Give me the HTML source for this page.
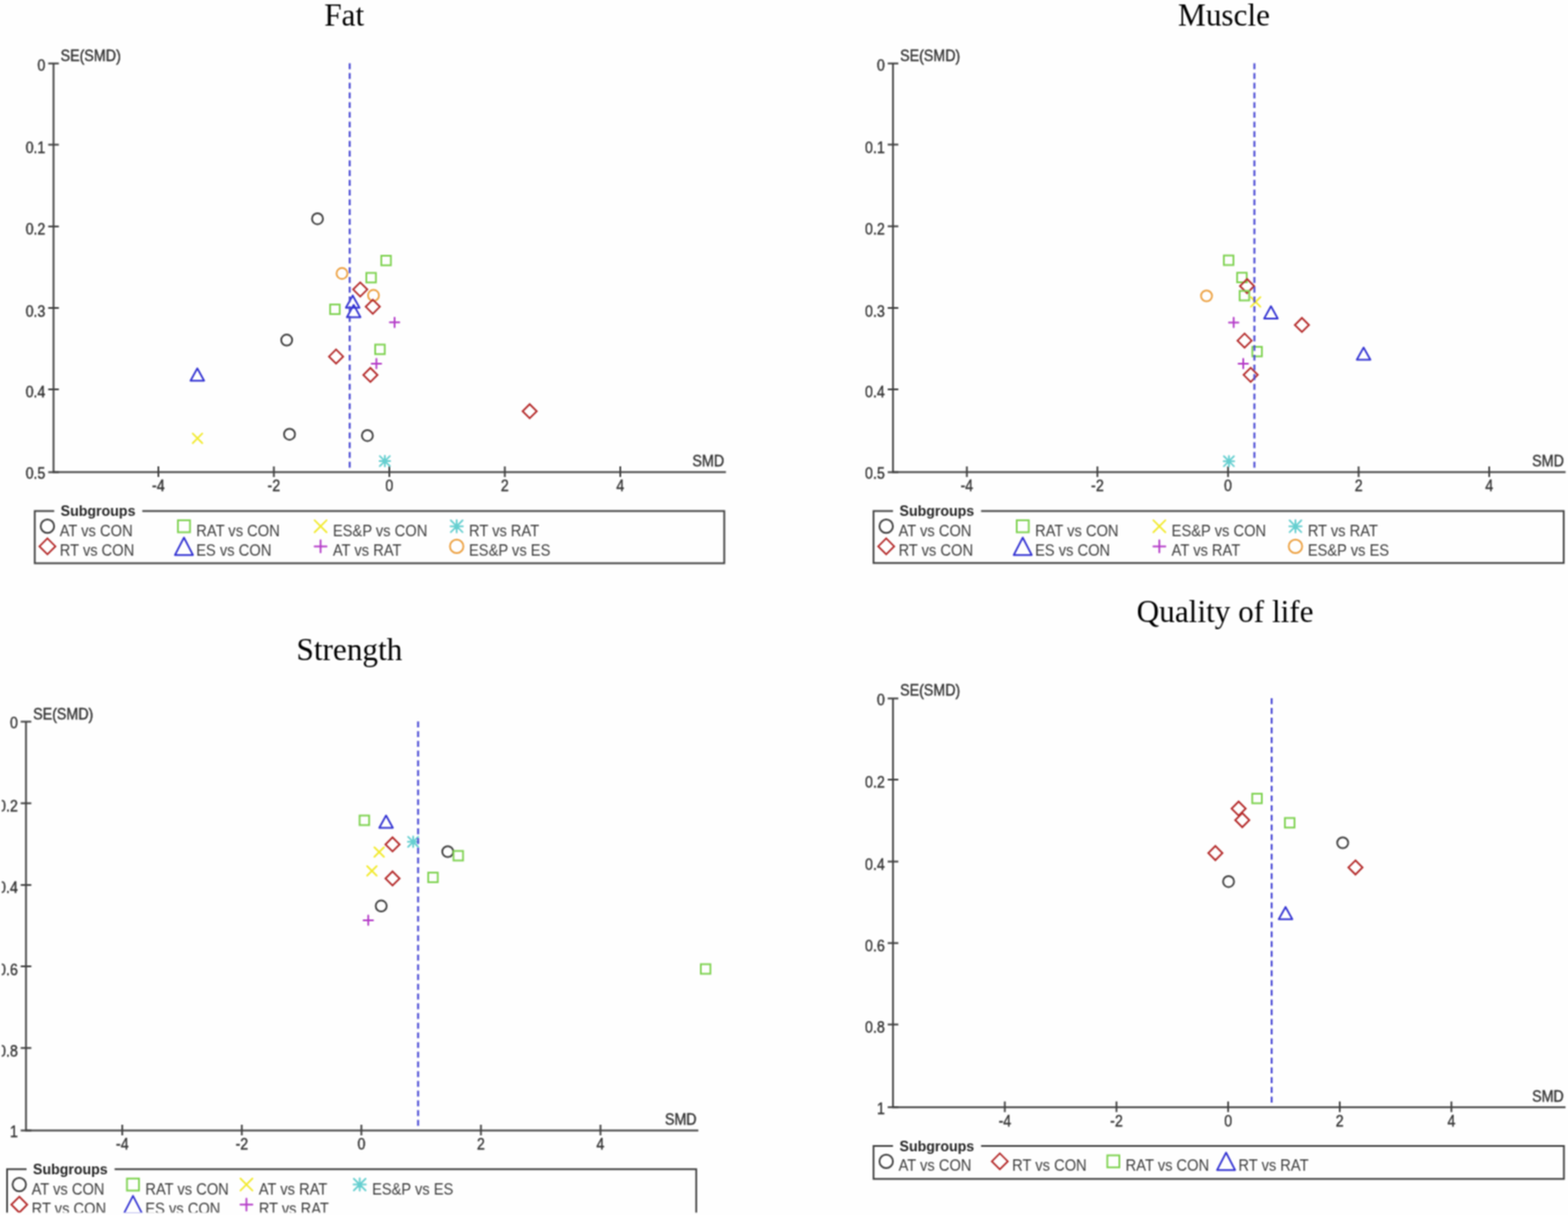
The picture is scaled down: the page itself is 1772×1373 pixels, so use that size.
<!DOCTYPE html>
<html><head><meta charset="utf-8"><title>Funnel plots</title>
<style>
html,body{margin:0;padding:0;background:#fff;}
body{width:1772px;height:1373px;overflow:hidden;}
svg{display:block;}
</style></head>
<body>
<svg width="1772" height="1373" viewBox="0 0 1772 1373">
<defs><filter id="soft" x="0" y="0" width="1772" height="1373" filterUnits="userSpaceOnUse" color-interpolation-filters="sRGB"><feConvolveMatrix order="3" kernelMatrix="1 2 1 2 4 2 1 2 1" divisor="16" edgeMode="duplicate"/></filter></defs>
<g filter="url(#soft)">
<rect width="1772" height="1373" fill="#fefefe"/>
<g stroke="#404040" stroke-width="2" fill="none">
<path d="M60.5 71.7V533.6H820.4"/>
<path d="M54.5 71.7H66.5"/>
<path d="M54.5 163.5H66.5"/>
<path d="M54.5 255.9H66.5"/>
<path d="M54.5 348H66.5"/>
<path d="M54.5 440H66.5"/>
<path d="M54.5 533.6H66.5"/>
<path d="M179 527.1V539.1"/>
<path d="M309.5 527.1V539.1"/>
<path d="M440 527.1V539.1"/>
<path d="M570.5 527.1V539.1"/>
<path d="M701 527.1V539.1"/>
</g>
<g font-family="'Liberation Sans', Arial, sans-serif" font-size="18" fill="#333333" stroke="#333333" stroke-width="0.4">
<text transform="translate(51.3 79.54) scale(0.895 1)" text-anchor="end">0</text>
<text transform="translate(51.3 172.94) scale(0.895 1)" text-anchor="end">0.1</text>
<text transform="translate(51.3 265.24) scale(0.895 1)" text-anchor="end">0.2</text>
<text transform="translate(51.3 357.54) scale(0.895 1)" text-anchor="end">0.3</text>
<text transform="translate(51.3 449.34) scale(0.895 1)" text-anchor="end">0.4</text>
<text transform="translate(51.3 541.24) scale(0.895 1)" text-anchor="end">0.5</text>
<text transform="translate(179 555) scale(0.895 1)" text-anchor="middle">-4</text>
<text transform="translate(309.5 555) scale(0.895 1)" text-anchor="middle">-2</text>
<text transform="translate(440 555) scale(0.895 1)" text-anchor="middle">0</text>
<text transform="translate(570.5 555) scale(0.895 1)" text-anchor="middle">2</text>
<text transform="translate(701 555) scale(0.895 1)" text-anchor="middle">4</text>
<text transform="translate(68.5 68.7) scale(0.895 1)">SE(SMD)</text>
<text transform="translate(818.4 527.1) scale(0.895 1)" text-anchor="end">SMD</text>
</g>
<text x="389" y="28.7" text-anchor="middle" font-family="'Liberation Serif', 'Times New Roman', serif" font-size="35.3" fill="#000">Fat</text>
<circle cx="358.8" cy="247.2" r="6.2" fill="none" stroke="#3e3e3e" stroke-width="2"/>
<rect x="430.9" y="289" width="10.8" height="10.8" fill="none" stroke="#7ed250" stroke-width="2"/>
<circle cx="386.5" cy="309" r="6.2" fill="none" stroke="#eca040" stroke-width="2"/>
<rect x="414" y="308.4" width="10.8" height="10.8" fill="none" stroke="#7ed250" stroke-width="2"/>
<polygon points="407.1,319.1 415.1,327.1 407.1,335.1 399.1,327.1" fill="none" stroke="#b42a2a" stroke-width="2" stroke-linejoin="miter"/>
<circle cx="422.1" cy="333.8" r="6.2" fill="none" stroke="#eca040" stroke-width="2"/>
<polygon points="398.6,333.9 406.3,347.8 390.9,347.8" fill="none" stroke="#3232d2" stroke-width="2" stroke-linejoin="round"/>
<polygon points="421.3,338.6 429.3,346.6 421.3,354.6 413.3,346.6" fill="none" stroke="#b42a2a" stroke-width="2" stroke-linejoin="miter"/>
<rect x="373.1" y="344.1" width="10.8" height="10.8" fill="none" stroke="#7ed250" stroke-width="2"/>
<polygon points="399.7,344.6 407.4,358.5 392,358.5" fill="none" stroke="#3232d2" stroke-width="2" stroke-linejoin="round"/>
<path d="M440.5 364.3H451.3M445.9 358.9V369.7" stroke="#b43cc8" stroke-width="2" stroke-linecap="round" fill="none"/>
<circle cx="324" cy="384.3" r="6.2" fill="none" stroke="#3e3e3e" stroke-width="2"/>
<rect x="424" y="389.4" width="10.8" height="10.8" fill="none" stroke="#7ed250" stroke-width="2"/>
<polygon points="379.8,394.9 387.8,402.9 379.8,410.9 371.8,402.9" fill="none" stroke="#b42a2a" stroke-width="2" stroke-linejoin="miter"/>
<path d="M420 410.9H430.8M425.4 405.5V416.3" stroke="#b43cc8" stroke-width="2" stroke-linecap="round" fill="none"/>
<polygon points="418.6,415.7 426.6,423.7 418.6,431.7 410.6,423.7" fill="none" stroke="#b42a2a" stroke-width="2" stroke-linejoin="miter"/>
<polygon points="223,416.3 230.7,430.2 215.3,430.2" fill="none" stroke="#3232d2" stroke-width="2" stroke-linejoin="round"/>
<polygon points="598.6,456.7 606.6,464.7 598.6,472.7 590.6,464.7" fill="none" stroke="#b42a2a" stroke-width="2" stroke-linejoin="miter"/>
<circle cx="327.2" cy="490.7" r="6.2" fill="none" stroke="#3e3e3e" stroke-width="2"/>
<circle cx="415.2" cy="492.2" r="6.2" fill="none" stroke="#3e3e3e" stroke-width="2"/>
<path d="M217.8 489.9L228.6 500.7M228.6 489.9L217.8 500.7" stroke="#f2ea30" stroke-width="2" stroke-linecap="round" fill="none"/>
<path d="M428.9 521.1H440.9M434.9 515.1V527.1M429.2 515.4L440.6 526.8M440.6 515.4L429.2 526.8" stroke="#66cfd0" stroke-width="2" stroke-linecap="round" fill="none"/>
<path d="M395.2 71.5V528.6" stroke="#4a4ad4" stroke-width="2.2" stroke-dasharray="6.7 4.28" fill="none"/>
<path d="M61.3 577.4H39.3V636.4H818.5V577.4H160.8" stroke="#404040" stroke-width="2" fill="none"/>
<text x="68.6" y="583.2" font-family="'Liberation Sans', Arial, sans-serif" font-size="16" font-weight="bold" fill="#262626">Subgroups</text>
<circle cx="53.6" cy="594.7" r="7.6" fill="none" stroke="#3e3e3e" stroke-width="2"/>
<text transform="translate(67.5 605.7) scale(0.95 1)" font-family="'Liberation Sans', Arial, sans-serif" font-size="17.5" fill="#3c3c3c">AT vs CON</text>
<polygon points="53.6,608.4 62.6,617.4 53.6,626.4 44.6,617.4" fill="none" stroke="#b42a2a" stroke-width="2" stroke-linejoin="miter"/>
<text transform="translate(67.5 627.9) scale(0.95 1)" font-family="'Liberation Sans', Arial, sans-serif" font-size="17.5" fill="#3c3c3c">RT vs CON</text>
<rect x="201.1" y="587.9" width="13.6" height="13.6" fill="none" stroke="#7ed250" stroke-width="2"/>
<text transform="translate(221.8 605.7) scale(0.95 1)" font-family="'Liberation Sans', Arial, sans-serif" font-size="17.5" fill="#3c3c3c">RAT vs CON</text>
<polygon points="207.9,607.5 218.1,627.2 197.7,627.2" fill="none" stroke="#3232d2" stroke-width="2" stroke-linejoin="round"/>
<text transform="translate(221.8 627.9) scale(0.95 1)" font-family="'Liberation Sans', Arial, sans-serif" font-size="17.5" fill="#3c3c3c">ES vs CON</text>
<path d="M355.5 587.9L369.1 601.5M369.1 587.9L355.5 601.5" stroke="#f2ea30" stroke-width="2" stroke-linecap="round" fill="none"/>
<text transform="translate(376.2 605.7) scale(0.95 1)" font-family="'Liberation Sans', Arial, sans-serif" font-size="17.5" fill="#3c3c3c">ES&amp;P vs CON</text>
<path d="M355.5 617.4H369.1M362.3 610.6V624.2" stroke="#b43cc8" stroke-width="2" stroke-linecap="round" fill="none"/>
<text transform="translate(376.2 627.9) scale(0.95 1)" font-family="'Liberation Sans', Arial, sans-serif" font-size="17.5" fill="#3c3c3c">AT vs RAT</text>
<path d="M509.1 594.7H523.1M516.1 587.7V601.7M509.45 588.05L522.75 601.35M522.75 588.05L509.45 601.35" stroke="#66cfd0" stroke-width="2" stroke-linecap="round" fill="none"/>
<text transform="translate(530 605.7) scale(0.95 1)" font-family="'Liberation Sans', Arial, sans-serif" font-size="17.5" fill="#3c3c3c">RT vs RAT</text>
<circle cx="516.1" cy="617.4" r="7.6" fill="none" stroke="#eca040" stroke-width="2"/>
<text transform="translate(530 627.9) scale(0.95 1)" font-family="'Liberation Sans', Arial, sans-serif" font-size="17.5" fill="#3c3c3c">ES&amp;P vs ES</text>
<g stroke="#404040" stroke-width="2" fill="none">
<path d="M1009.2 71.7V533.6H1769.3"/>
<path d="M1003.2 71.7H1015.2"/>
<path d="M1003.2 163.4H1015.2"/>
<path d="M1003.2 255.7H1015.2"/>
<path d="M1003.2 348H1015.2"/>
<path d="M1003.2 440H1015.2"/>
<path d="M1003.2 533.6H1015.2"/>
<path d="M1092.64 527.1V539.1"/>
<path d="M1240.22 527.1V539.1"/>
<path d="M1387.8 527.1V539.1"/>
<path d="M1535.38 527.1V539.1"/>
<path d="M1682.96 527.1V539.1"/>
</g>
<g font-family="'Liberation Sans', Arial, sans-serif" font-size="18" fill="#333333" stroke="#333333" stroke-width="0.4">
<text transform="translate(1000 79.54) scale(0.895 1)" text-anchor="end">0</text>
<text transform="translate(1000 172.84) scale(0.895 1)" text-anchor="end">0.1</text>
<text transform="translate(1000 265.04) scale(0.895 1)" text-anchor="end">0.2</text>
<text transform="translate(1000 357.54) scale(0.895 1)" text-anchor="end">0.3</text>
<text transform="translate(1000 449.34) scale(0.895 1)" text-anchor="end">0.4</text>
<text transform="translate(1000 541.24) scale(0.895 1)" text-anchor="end">0.5</text>
<text transform="translate(1092.64 555) scale(0.895 1)" text-anchor="middle">-4</text>
<text transform="translate(1240.22 555) scale(0.895 1)" text-anchor="middle">-2</text>
<text transform="translate(1387.8 555) scale(0.895 1)" text-anchor="middle">0</text>
<text transform="translate(1535.38 555) scale(0.895 1)" text-anchor="middle">2</text>
<text transform="translate(1682.96 555) scale(0.895 1)" text-anchor="middle">4</text>
<text transform="translate(1017.2 68.7) scale(0.895 1)">SE(SMD)</text>
<text transform="translate(1767.3 527.1) scale(0.895 1)" text-anchor="end">SMD</text>
</g>
<text x="1383.3" y="28.6" text-anchor="middle" font-family="'Liberation Serif', 'Times New Roman', serif" font-size="35.3" fill="#000">Muscle</text>
<rect x="1383.1" y="288.7" width="10.8" height="10.8" fill="none" stroke="#7ed250" stroke-width="2"/>
<rect x="1398.1" y="308.2" width="10.8" height="10.8" fill="none" stroke="#7ed250" stroke-width="2"/>
<polygon points="1409.3,315.3 1417.3,323.3 1409.3,331.3 1401.3,323.3" fill="none" stroke="#b42a2a" stroke-width="2" stroke-linejoin="miter"/>
<rect x="1400.9" y="328.7" width="10.8" height="10.8" fill="none" stroke="#7ed250" stroke-width="2"/>
<circle cx="1363.5" cy="334.4" r="6.2" fill="none" stroke="#eca040" stroke-width="2"/>
<path d="M1413.6 335.8L1424.4 346.6M1424.4 335.8L1413.6 346.6" stroke="#f2ea30" stroke-width="2" stroke-linecap="round" fill="none"/>
<polygon points="1436.3,346.1 1444,360 1428.6,360" fill="none" stroke="#3232d2" stroke-width="2" stroke-linejoin="round"/>
<path d="M1388.8 364.4H1399.6M1394.2 359V369.8" stroke="#b43cc8" stroke-width="2" stroke-linecap="round" fill="none"/>
<polygon points="1471.3,359.2 1479.3,367.2 1471.3,375.2 1463.3,367.2" fill="none" stroke="#b42a2a" stroke-width="2" stroke-linejoin="miter"/>
<polygon points="1406.5,376.9 1414.5,384.9 1406.5,392.9 1398.5,384.9" fill="none" stroke="#b42a2a" stroke-width="2" stroke-linejoin="miter"/>
<rect x="1415.3" y="391.9" width="10.8" height="10.8" fill="none" stroke="#7ed250" stroke-width="2"/>
<polygon points="1541,392.7 1548.7,406.6 1533.3,406.6" fill="none" stroke="#3232d2" stroke-width="2" stroke-linejoin="round"/>
<path d="M1399.6 410.9H1410.4M1405 405.5V416.3" stroke="#b43cc8" stroke-width="2" stroke-linecap="round" fill="none"/>
<polygon points="1413.4,415.6 1421.4,423.6 1413.4,431.6 1405.4,423.6" fill="none" stroke="#b42a2a" stroke-width="2" stroke-linejoin="miter"/>
<path d="M1382.8 521.2H1394.8M1388.8 515.2V527.2M1383.1 515.5L1394.5 526.9M1394.5 515.5L1383.1 526.9" stroke="#66cfd0" stroke-width="2" stroke-linecap="round" fill="none"/>
<path d="M1417.6 71.5V528.6" stroke="#4a4ad4" stroke-width="2.2" stroke-dasharray="6.7 4.28" fill="none"/>
<path d="M1009.2 577.4H987.2V636.3H1767.2V577.4H1108.7" stroke="#404040" stroke-width="2" fill="none"/>
<text x="1016.5" y="583.2" font-family="'Liberation Sans', Arial, sans-serif" font-size="16" font-weight="bold" fill="#262626">Subgroups</text>
<circle cx="1001.5" cy="594.7" r="7.6" fill="none" stroke="#3e3e3e" stroke-width="2"/>
<text transform="translate(1015.4 605.7) scale(0.95 1)" font-family="'Liberation Sans', Arial, sans-serif" font-size="17.5" fill="#3c3c3c">AT vs CON</text>
<polygon points="1001.5,608.4 1010.5,617.4 1001.5,626.4 992.5,617.4" fill="none" stroke="#b42a2a" stroke-width="2" stroke-linejoin="miter"/>
<text transform="translate(1015.4 627.9) scale(0.95 1)" font-family="'Liberation Sans', Arial, sans-serif" font-size="17.5" fill="#3c3c3c">RT vs CON</text>
<rect x="1149" y="587.9" width="13.6" height="13.6" fill="none" stroke="#7ed250" stroke-width="2"/>
<text transform="translate(1169.7 605.7) scale(0.95 1)" font-family="'Liberation Sans', Arial, sans-serif" font-size="17.5" fill="#3c3c3c">RAT vs CON</text>
<polygon points="1155.8,607.5 1166,627.2 1145.6,627.2" fill="none" stroke="#3232d2" stroke-width="2" stroke-linejoin="round"/>
<text transform="translate(1169.7 627.9) scale(0.95 1)" font-family="'Liberation Sans', Arial, sans-serif" font-size="17.5" fill="#3c3c3c">ES vs CON</text>
<path d="M1303.4 587.9L1317 601.5M1317 587.9L1303.4 601.5" stroke="#f2ea30" stroke-width="2" stroke-linecap="round" fill="none"/>
<text transform="translate(1324.1 605.7) scale(0.95 1)" font-family="'Liberation Sans', Arial, sans-serif" font-size="17.5" fill="#3c3c3c">ES&amp;P vs CON</text>
<path d="M1303.4 617.4H1317M1310.2 610.6V624.2" stroke="#b43cc8" stroke-width="2" stroke-linecap="round" fill="none"/>
<text transform="translate(1324.1 627.9) scale(0.95 1)" font-family="'Liberation Sans', Arial, sans-serif" font-size="17.5" fill="#3c3c3c">AT vs RAT</text>
<path d="M1457 594.7H1471M1464 587.7V601.7M1457.35 588.05L1470.65 601.35M1470.65 588.05L1457.35 601.35" stroke="#66cfd0" stroke-width="2" stroke-linecap="round" fill="none"/>
<text transform="translate(1477.9 605.7) scale(0.95 1)" font-family="'Liberation Sans', Arial, sans-serif" font-size="17.5" fill="#3c3c3c">RT vs RAT</text>
<circle cx="1464" cy="617.4" r="7.6" fill="none" stroke="#eca040" stroke-width="2"/>
<text transform="translate(1477.9 627.9) scale(0.95 1)" font-family="'Liberation Sans', Arial, sans-serif" font-size="17.5" fill="#3c3c3c">ES&amp;P vs ES</text>
<g stroke="#404040" stroke-width="2" fill="none">
<path d="M29.4 815.5V1277.5H789.2"/>
<path d="M23.4 815.5H35.4"/>
<path d="M23.4 907.7H35.4"/>
<path d="M23.4 1000.1H35.4"/>
<path d="M23.4 1092H35.4"/>
<path d="M23.4 1184.3H35.4"/>
<path d="M23.4 1277.5H35.4"/>
<path d="M138.2 1271V1283"/>
<path d="M273.3 1271V1283"/>
<path d="M408.4 1271V1283"/>
<path d="M543.5 1271V1283"/>
<path d="M678.6 1271V1283"/>
</g>
<g font-family="'Liberation Sans', Arial, sans-serif" font-size="18" fill="#333333" stroke="#333333" stroke-width="0.4">
<text transform="translate(20.2 823.34) scale(0.895 1)" text-anchor="end">0</text>
<text transform="translate(20.2 917.14) scale(0.895 1)" text-anchor="end">0.2</text>
<text transform="translate(20.2 1009.44) scale(0.895 1)" text-anchor="end">0.4</text>
<text transform="translate(20.2 1101.54) scale(0.895 1)" text-anchor="end">0.6</text>
<text transform="translate(20.2 1193.64) scale(0.895 1)" text-anchor="end">0.8</text>
<text transform="translate(20.2 1285.14) scale(0.895 1)" text-anchor="end">1</text>
<text transform="translate(138.2 1298.9) scale(0.895 1)" text-anchor="middle">-4</text>
<text transform="translate(273.3 1298.9) scale(0.895 1)" text-anchor="middle">-2</text>
<text transform="translate(408.4 1298.9) scale(0.895 1)" text-anchor="middle">0</text>
<text transform="translate(543.5 1298.9) scale(0.895 1)" text-anchor="middle">2</text>
<text transform="translate(678.6 1298.9) scale(0.895 1)" text-anchor="middle">4</text>
<text transform="translate(37.4 812.5) scale(0.895 1)">SE(SMD)</text>
<text transform="translate(787.2 1271) scale(0.895 1)" text-anchor="end">SMD</text>
</g>
<text x="394.9" y="746.4" text-anchor="middle" font-family="'Liberation Serif', 'Times New Roman', serif" font-size="35.3" fill="#000">Strength</text>
<rect x="406.4" y="921.6" width="10.8" height="10.8" fill="none" stroke="#7ed250" stroke-width="2"/>
<polygon points="436.3,921.5 444,935.4 428.6,935.4" fill="none" stroke="#3232d2" stroke-width="2" stroke-linejoin="round"/>
<path d="M460.9 951.3H472.9M466.9 945.3V957.3M461.2 945.6L472.6 957M472.6 945.6L461.2 957" stroke="#66cfd0" stroke-width="2" stroke-linecap="round" fill="none"/>
<polygon points="443.6,946.2 451.6,954.2 443.6,962.2 435.6,954.2" fill="none" stroke="#b42a2a" stroke-width="2" stroke-linejoin="miter"/>
<circle cx="506" cy="962.4" r="6.2" fill="none" stroke="#3e3e3e" stroke-width="2"/>
<path d="M423.1 957.5L433.9 968.3M433.9 957.5L423.1 968.3" stroke="#f2ea30" stroke-width="2" stroke-linecap="round" fill="none"/>
<rect x="512.5" y="961.6" width="10.8" height="10.8" fill="none" stroke="#7ed250" stroke-width="2"/>
<path d="M414.9 978.7L425.7 989.5M425.7 978.7L414.9 989.5" stroke="#f2ea30" stroke-width="2" stroke-linecap="round" fill="none"/>
<rect x="483.9" y="986.1" width="10.8" height="10.8" fill="none" stroke="#7ed250" stroke-width="2"/>
<polygon points="443.6,984.7 451.6,992.7 443.6,1000.7 435.6,992.7" fill="none" stroke="#b42a2a" stroke-width="2" stroke-linejoin="miter"/>
<circle cx="430.8" cy="1023.8" r="6.2" fill="none" stroke="#3e3e3e" stroke-width="2"/>
<path d="M410.8 1039.9H421.6M416.2 1034.5V1045.3" stroke="#b43cc8" stroke-width="2" stroke-linecap="round" fill="none"/>
<rect x="792" y="1089.6" width="10.8" height="10.8" fill="none" stroke="#7ed250" stroke-width="2"/>
<path d="M472.5 815.3V1272.5" stroke="#4a4ad4" stroke-width="2.2" stroke-dasharray="6.7 4.28" fill="none"/>
<path d="M30 1321.3H8V1380.3H786.8V1321.3H129.5" stroke="#404040" stroke-width="2" fill="none"/>
<text x="37.3" y="1327.1" font-family="'Liberation Sans', Arial, sans-serif" font-size="16" font-weight="bold" fill="#262626">Subgroups</text>
<circle cx="21.8" cy="1338.6" r="7.6" fill="none" stroke="#3e3e3e" stroke-width="2"/>
<text transform="translate(35.7 1349.6) scale(0.95 1)" font-family="'Liberation Sans', Arial, sans-serif" font-size="17.5" fill="#3c3c3c">AT vs CON</text>
<polygon points="21.8,1352.3 30.8,1361.3 21.8,1370.3 12.8,1361.3" fill="none" stroke="#b42a2a" stroke-width="2" stroke-linejoin="miter"/>
<text transform="translate(35.7 1371.8) scale(0.95 1)" font-family="'Liberation Sans', Arial, sans-serif" font-size="17.5" fill="#3c3c3c">RT vs CON</text>
<rect x="143.5" y="1331.8" width="13.6" height="13.6" fill="none" stroke="#7ed250" stroke-width="2"/>
<text transform="translate(164.2 1349.6) scale(0.95 1)" font-family="'Liberation Sans', Arial, sans-serif" font-size="17.5" fill="#3c3c3c">RAT vs CON</text>
<polygon points="150.3,1351.4 160.5,1371.1 140.1,1371.1" fill="none" stroke="#3232d2" stroke-width="2" stroke-linejoin="round"/>
<text transform="translate(164.2 1371.8) scale(0.95 1)" font-family="'Liberation Sans', Arial, sans-serif" font-size="17.5" fill="#3c3c3c">ES vs CON</text>
<path d="M271.7 1331.8L285.3 1345.4M285.3 1331.8L271.7 1345.4" stroke="#f2ea30" stroke-width="2" stroke-linecap="round" fill="none"/>
<text transform="translate(292.4 1349.6) scale(0.95 1)" font-family="'Liberation Sans', Arial, sans-serif" font-size="17.5" fill="#3c3c3c">AT vs RAT</text>
<path d="M271.7 1361.3H285.3M278.5 1354.5V1368.1" stroke="#b43cc8" stroke-width="2" stroke-linecap="round" fill="none"/>
<text transform="translate(292.4 1371.8) scale(0.95 1)" font-family="'Liberation Sans', Arial, sans-serif" font-size="17.5" fill="#3c3c3c">RT vs RAT</text>
<path d="M399.5 1338.6H413.5M406.5 1331.6V1345.6M399.85 1331.95L413.15 1345.25M413.15 1331.95L399.85 1345.25" stroke="#66cfd0" stroke-width="2" stroke-linecap="round" fill="none"/>
<text transform="translate(420.4 1349.6) scale(0.95 1)" font-family="'Liberation Sans', Arial, sans-serif" font-size="17.5" fill="#3c3c3c">ES&amp;P vs ES</text>
<g stroke="#404040" stroke-width="2" fill="none">
<path d="M1009.2 789.3V1251.2H1769.2"/>
<path d="M1003.2 789.3H1015.2"/>
<path d="M1003.2 881H1015.2"/>
<path d="M1003.2 973.6H1015.2"/>
<path d="M1003.2 1065.7H1015.2"/>
<path d="M1003.2 1157.7H1015.2"/>
<path d="M1003.2 1251.2H1015.2"/>
<path d="M1135.54 1244.7V1256.7"/>
<path d="M1261.72 1244.7V1256.7"/>
<path d="M1387.9 1244.7V1256.7"/>
<path d="M1514.08 1244.7V1256.7"/>
<path d="M1640.26 1244.7V1256.7"/>
</g>
<g font-family="'Liberation Sans', Arial, sans-serif" font-size="18" fill="#333333" stroke="#333333" stroke-width="0.4">
<text transform="translate(1000 797.14) scale(0.895 1)" text-anchor="end">0</text>
<text transform="translate(1000 890.44) scale(0.895 1)" text-anchor="end">0.2</text>
<text transform="translate(1000 982.94) scale(0.895 1)" text-anchor="end">0.4</text>
<text transform="translate(1000 1075.24) scale(0.895 1)" text-anchor="end">0.6</text>
<text transform="translate(1000 1167.04) scale(0.895 1)" text-anchor="end">0.8</text>
<text transform="translate(1000 1258.84) scale(0.895 1)" text-anchor="end">1</text>
<text transform="translate(1135.54 1272.6) scale(0.895 1)" text-anchor="middle">-4</text>
<text transform="translate(1261.72 1272.6) scale(0.895 1)" text-anchor="middle">-2</text>
<text transform="translate(1387.9 1272.6) scale(0.895 1)" text-anchor="middle">0</text>
<text transform="translate(1514.08 1272.6) scale(0.895 1)" text-anchor="middle">2</text>
<text transform="translate(1640.26 1272.6) scale(0.895 1)" text-anchor="middle">4</text>
<text transform="translate(1017.2 786.3) scale(0.895 1)">SE(SMD)</text>
<text transform="translate(1767.2 1244.7) scale(0.895 1)" text-anchor="end">SMD</text>
</g>
<text x="1384.5" y="702.6" text-anchor="middle" font-family="'Liberation Serif', 'Times New Roman', serif" font-size="35.3" fill="#000">Quality of life</text>
<rect x="1415.2" y="896.9" width="10.8" height="10.8" fill="none" stroke="#7ed250" stroke-width="2"/>
<polygon points="1399.8,905.7 1407.8,913.7 1399.8,921.7 1391.8,913.7" fill="none" stroke="#b42a2a" stroke-width="2" stroke-linejoin="miter"/>
<polygon points="1403.9,918.8 1411.9,926.8 1403.9,934.8 1395.9,926.8" fill="none" stroke="#b42a2a" stroke-width="2" stroke-linejoin="miter"/>
<rect x="1452.1" y="924.4" width="10.8" height="10.8" fill="none" stroke="#7ed250" stroke-width="2"/>
<circle cx="1517.4" cy="952.4" r="6.2" fill="none" stroke="#3e3e3e" stroke-width="2"/>
<polygon points="1373.5,956 1381.5,964 1373.5,972 1365.5,964" fill="none" stroke="#b42a2a" stroke-width="2" stroke-linejoin="miter"/>
<polygon points="1531.8,972.3 1539.8,980.3 1531.8,988.3 1523.8,980.3" fill="none" stroke="#b42a2a" stroke-width="2" stroke-linejoin="miter"/>
<circle cx="1388.4" cy="996.2" r="6.2" fill="none" stroke="#3e3e3e" stroke-width="2"/>
<polygon points="1452.8,1024.9 1460.5,1038.8 1445.1,1038.8" fill="none" stroke="#3232d2" stroke-width="2" stroke-linejoin="round"/>
<path d="M1437.1 789.1V1246.2" stroke="#4a4ad4" stroke-width="2.2" stroke-dasharray="6.7 4.28" fill="none"/>
<path d="M1009.2 1295.1H987.2V1332.2H1767.4V1295.1H1108.7" stroke="#404040" stroke-width="2" fill="none"/>
<text x="1016.5" y="1300.9" font-family="'Liberation Sans', Arial, sans-serif" font-size="16" font-weight="bold" fill="#262626">Subgroups</text>
<circle cx="1001.5" cy="1312.4" r="7.6" fill="none" stroke="#3e3e3e" stroke-width="2"/>
<text transform="translate(1015.4 1323.4) scale(0.95 1)" font-family="'Liberation Sans', Arial, sans-serif" font-size="17.5" fill="#3c3c3c">AT vs CON</text>
<polygon points="1129.9,1303.4 1138.9,1312.4 1129.9,1321.4 1120.9,1312.4" fill="none" stroke="#b42a2a" stroke-width="2" stroke-linejoin="miter"/>
<text transform="translate(1143.8 1323.4) scale(0.95 1)" font-family="'Liberation Sans', Arial, sans-serif" font-size="17.5" fill="#3c3c3c">RT vs CON</text>
<rect x="1251.4" y="1305.6" width="13.6" height="13.6" fill="none" stroke="#7ed250" stroke-width="2"/>
<text transform="translate(1272.1 1323.4) scale(0.95 1)" font-family="'Liberation Sans', Arial, sans-serif" font-size="17.5" fill="#3c3c3c">RAT vs CON</text>
<polygon points="1385.6,1302.5 1395.8,1322.2 1375.4,1322.2" fill="none" stroke="#3232d2" stroke-width="2" stroke-linejoin="round"/>
<text transform="translate(1399.5 1323.4) scale(0.95 1)" font-family="'Liberation Sans', Arial, sans-serif" font-size="17.5" fill="#3c3c3c">RT vs RAT</text>
<rect x="0" y="1370.3" width="1772" height="3" fill="#fefefe"/>
<rect x="0" y="640" width="1.9" height="733" fill="#fefefe"/>
</g>
</svg>
</body></html>
